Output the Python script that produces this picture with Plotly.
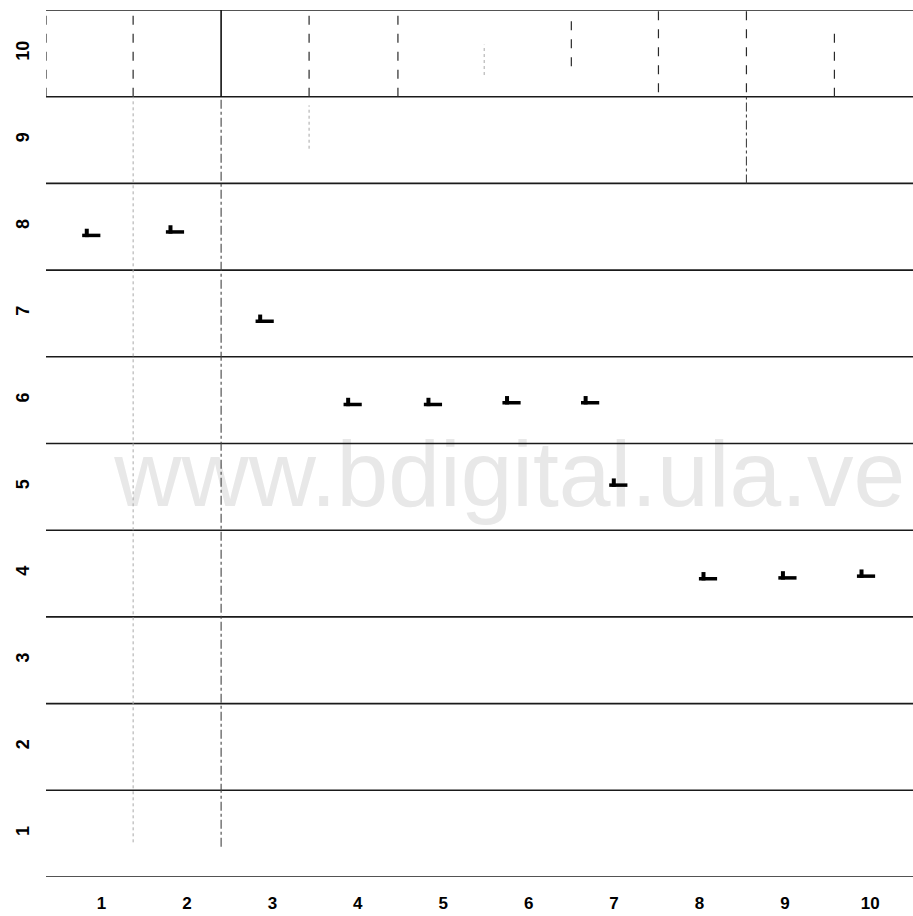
import plotly.graph_objects as go

# ---- data ----
x_ticks = list(range(1, 11))
y_ticks = list(range(1, 11))
tick_text_x = [str(v) for v in x_ticks]
tick_text_y = [str(v) for v in y_ticks]

point_x = [0.88, 1.86, 2.91, 3.94, 4.88, 5.80, 6.72, 7.05, 8.10, 9.03, 9.95]
point_y = [7.90, 7.94, 6.91, 5.95, 5.95, 5.97, 5.97, 5.02, 3.94, 3.95, 3.97]

row_bounds = [0.5, 1.5, 2.5, 3.5, 4.5, 5.5, 6.5, 7.5, 8.5, 9.5, 10.5]

# vertical reference segments: x, from y, to y, kind
seg_x  = [0.35, 1.37, 2.40, 3.43, 4.47, 5.48, 6.50, 7.52, 8.55, 9.58,
          1.37, 2.40, 8.55, 3.43]
seg_y0 = [9.5, 9.5, 9.5, 9.5, 9.5, 9.75, 9.85, 9.55, 9.55, 9.5,
          0.9, 0.85, 8.5, 8.9]
seg_y1 = [10.5, 10.5, 10.5, 10.5, 10.5, 10.1, 10.45, 10.5, 10.5, 10.3,
          9.5, 9.5, 9.5, 9.4]
seg_kind = ["top", "top", "main", "top", "top", "faint", "top", "top", "top", "top",
            "faint", "mid", "mid", "faint"]

watermark = "www.bdigital.ula.ve"

# ---- styles ----
styles = {
    "top":   dict(color="#2a2a2a", width=1.2, dash="dash"),
    "main":  dict(color="#111111", width=1.6, dash="solid"),
    "mid":   dict(color="#444444", width=1.1, dash="dashdot"),
    "faint": dict(color="#a8a8a8", width=1.0, dash="dot"),
}

px_per_x = 85.4
px_per_y = 86.67

fig = go.Figure()

# watermark (under everything)
fig.add_trace(go.Scatter(
    x=[5.78], y=[5.05], mode="text", text=[watermark],
    textfont=dict(family="Liberation Sans, Arial", size=93, color="#e8e8e8"),
    hoverinfo="skip", showlegend=False))

# horizontal row boundaries
hx, hy = [], []
for b in row_bounds:
    hx += [0.35, 10.5, None]
    hy += [b, b, None]
fig.add_trace(go.Scatter(x=hx, y=hy, mode="lines",
                         line=dict(color="#1a1a1a", width=1.6),
                         hoverinfo="skip", showlegend=False))

# vertical segments
for xs, a, b, k in zip(seg_x, seg_y0, seg_y1, seg_kind):
    fig.add_trace(go.Scatter(x=[xs, xs], y=[a, b], mode="lines",
                             line=styles[k], hoverinfo="skip", showlegend=False))

# L-shaped glyphs: horizontal foot + short vertical stem at the left end
fig.add_trace(go.Scatter(
    x=point_x, y=point_y, mode="markers",
    marker=dict(symbol="line-ew", size=13, line=dict(color="black", width=3.5)),
    showlegend=False))
fig.add_trace(go.Scatter(
    x=[v - 4.5 / px_per_x for v in point_x],
    y=[v + 2.5 / px_per_y for v in point_y], mode="markers",
    marker=dict(symbol="line-ns", size=6, line=dict(color="black", width=4)),
    showlegend=False))

fig.update_layout(
    width=913, height=916,
    margin=dict(l=46, r=0, t=10, b=39),
    paper_bgcolor="white", plot_bgcolor="white",
    showlegend=False,
    xaxis=dict(range=[0.35, 10.5], tickvals=x_ticks, ticktext=tick_text_x,
               showgrid=False, zeroline=False, showline=False, ticks="",
               automargin=False, ticklabelstandoff=14,
               tickfont=dict(family="Liberation Sans, Arial", size=17, color="black",
                             weight="bold")),
    yaxis=dict(range=[0.5, 10.5], tickvals=y_ticks, ticktext=tick_text_y,
               showgrid=False, zeroline=False, showline=False, ticks="",
               automargin=False, tickangle=-90, ticklabelstandoff=12,
               tickfont=dict(family="Liberation Sans, Arial", size=18, color="black",
                             weight="bold")),
)

fig.write_html(
    "out.html",
    config={"displayModeBar": False},
    post_script="document.body.style.margin='0';document.body.style.overflow='hidden';",
)
